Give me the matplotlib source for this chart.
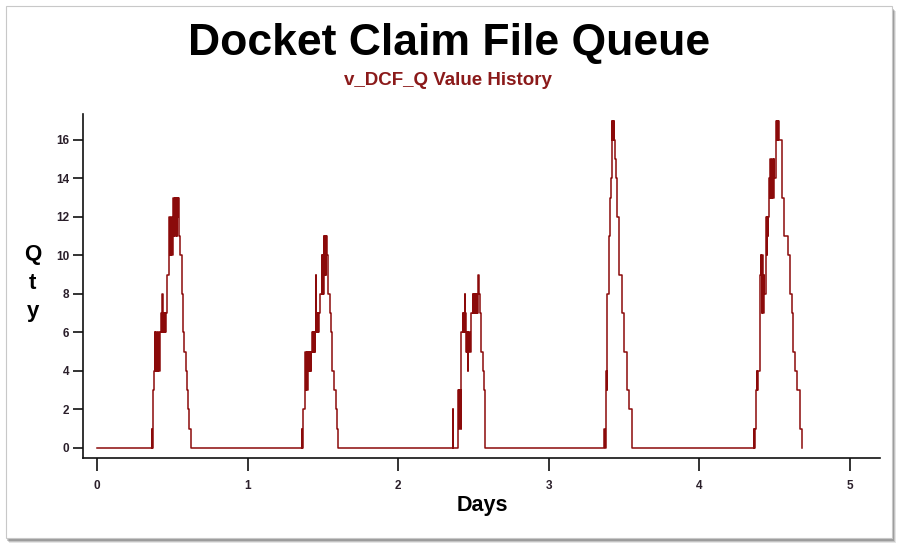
import numpy as np
import matplotlib
matplotlib.use("Agg")
import matplotlib.pyplot as plt
from matplotlib.patches import Rectangle

plt.rcParams['font.family'] = ['Liberation Sans', 'DejaVu Sans']

# queue length history, (day, qty) steps for each daily burst
start = [(0.0, 0)]
burst1 = [(0.363, 1), (0.366, 0), (0.372, 3), (0.379, 4), (0.383, 6), (0.386, 4), (0.389, 5),
          (0.392, 4), (0.395, 6), (0.398, 4), (0.401, 5), (0.404, 4), (0.407, 6), (0.410, 5),
          (0.413, 4), (0.416, 5), (0.419, 6), (0.422, 7), (0.425, 6), (0.428, 7), (0.431, 6),
          (0.434, 8), (0.437, 7), (0.440, 6), (0.443, 7), (0.446, 6), (0.449, 7), (0.452, 6),
          (0.455, 7), (0.458, 6), (0.461, 7), (0.464, 9), (0.478, 10), (0.481, 12), (0.484, 10),
          (0.487, 11), (0.490, 10), (0.493, 12), (0.496, 11), (0.499, 10), (0.502, 11),
          (0.505, 12), (0.508, 13), (0.511, 11), (0.514, 12), (0.517, 13), (0.520, 11),
          (0.523, 13), (0.526, 12), (0.529, 11), (0.532, 13), (0.535, 12), (0.538, 13),
          (0.542, 11), (0.551, 10), (0.562, 8), (0.573, 6), (0.580, 5), (0.589, 4), (0.600, 3),
          (0.606, 2), (0.613, 1), (0.624, 0)]
burst2 = [(1.359, 1), (1.362, 0), (1.370, 2), (1.381, 3), (1.384, 5), (1.387, 3), (1.390, 4),
          (1.393, 5), (1.396, 3), (1.400, 4), (1.403, 5), (1.406, 4), (1.409, 5), (1.412, 4),
          (1.415, 5), (1.418, 4), (1.422, 5), (1.425, 6), (1.428, 5), (1.431, 6), (1.434, 5),
          (1.437, 6), (1.440, 5), (1.443, 6), (1.446, 5), (1.449, 6), (1.452, 9), (1.455, 6),
          (1.459, 7), (1.462, 6), (1.465, 7), (1.468, 6), (1.471, 7), (1.474, 6), (1.477, 7),
          (1.481, 8), (1.492, 10), (1.495, 8), (1.498, 9), (1.501, 10), (1.504, 8), (1.507, 11),
          (1.510, 9), (1.513, 10), (1.516, 11), (1.519, 9), (1.522, 11), (1.525, 10),
          (1.536, 8), (1.547, 7), (1.554, 6), (1.562, 4), (1.574, 3), (1.585, 2), (1.596, 1),
          (1.603, 0)]
burst3 = [(2.364, 2), (2.367, 0), (2.397, 1), (2.400, 3), (2.403, 1), (2.406, 3), (2.409, 2),
          (2.412, 3), (2.415, 1), (2.419, 6), (2.430, 7), (2.433, 6), (2.436, 7), (2.439, 6),
          (2.442, 8), (2.445, 7), (2.448, 6), (2.452, 5), (2.455, 6), (2.458, 5), (2.461, 6),
          (2.464, 4), (2.467, 5), (2.470, 6), (2.474, 5), (2.481, 7), (2.497, 8), (2.500, 7),
          (2.503, 8), (2.506, 7), (2.509, 8), (2.512, 7), (2.515, 8), (2.518, 7), (2.521, 8),
          (2.524, 7), (2.527, 8), (2.531, 9), (2.534, 8), (2.541, 7), (2.552, 5), (2.563, 4),
          (2.570, 3), (2.579, 0)]
burst4 = [(3.369, 1), (3.373, 0), (3.380, 3), (3.383, 4), (3.385, 3), (3.387, 4), (3.389, 8),
          (3.402, 11), (3.408, 13), (3.413, 14), (3.420, 17), (3.423, 16), (3.426, 17),
          (3.429, 16), (3.432, 17), (3.435, 16), (3.440, 15), (3.446, 14), (3.455, 12),
          (3.466, 9), (3.484, 7), (3.500, 5), (3.517, 3), (3.535, 2), (3.550, 0)]
burst5 = [(4.363, 1), (4.365, 0), (4.367, 1), (4.378, 3), (4.382, 4), (4.384, 3), (4.387, 4),
          (4.400, 5), (4.406, 9), (4.410, 10), (4.413, 9), (4.416, 7), (4.419, 10), (4.422, 9),
          (4.425, 7), (4.428, 9), (4.431, 8), (4.444, 12), (4.447, 10), (4.450, 12), (4.453, 11),
          (4.456, 12), (4.466, 14), (4.469, 13), (4.472, 15), (4.475, 13), (4.478, 14),
          (4.481, 13), (4.484, 15), (4.487, 14), (4.490, 13), (4.493, 15), (4.496, 14),
          (4.511, 17), (4.514, 16), (4.517, 17), (4.520, 16), (4.523, 17), (4.526, 16),
          (4.546, 13), (4.564, 11), (4.590, 10), (4.602, 8), (4.613, 7), (4.624, 5),
          (4.635, 4), (4.650, 3), (4.668, 1), (4.679, 0)]

x_ticks = [0, 1, 2, 3, 4, 5]
y_ticks = [0, 2, 4, 6, 8, 10, 12, 14, 16]

history = start + burst1 + burst2 + burst3 + burst4 + burst5
days = np.array([p[0] for p in history])
qty = np.array([p[1] for p in history])

fig = plt.figure(figsize=(9.09, 5.54), dpi=100)
fig.patch.set_facecolor('white')

# panel with a soft shadow
for i, a in enumerate([0.10, 0.14, 0.20]):
    off = (3 - i) / 909
    fig.patches.append(Rectangle((6 / 909 + off, 14 / 554 - off * 1.6), 887 / 909, 532 / 554,
                                 transform=fig.transFigure, facecolor='black', alpha=a,
                                 edgecolor='none', zorder=0))
fig.patches.append(Rectangle((6 / 909, 16 / 554), 886 / 909, 532 / 554,
                             transform=fig.transFigure, facecolor='white',
                             edgecolor='#c8c8c8', lw=0.8, zorder=1))

ax = fig.add_axes([83 / 909, 96 / 554, 797 / 909, 344 / 554])
ax.set_zorder(5)
ax.set_facecolor('none')
ax.plot(days, qty, drawstyle='steps-post', color='#8b0a0a', lw=1.1)

ax.set_xlim(-0.093, 5.2)
ax.set_ylim(-0.52, 17.35)
ax.set_xticks(x_ticks)
ax.set_yticks(y_ticks)

for s in ['top', 'right']:
    ax.spines[s].set_visible(False)
for s in ['left', 'bottom']:
    ax.spines[s].set_linewidth(1.2)
    ax.spines[s].set_color('#111111')

ax.tick_params(axis='x', length=9, width=1.2, pad=7, color='#111111',
               labelsize=8.5, labelcolor='#2a1f2a')
ax.tick_params(axis='y', length=7, width=1.2, pad=3, color='#111111',
               labelsize=8.5, labelcolor='#2a1f2a')
for lab in ax.get_xticklabels() + ax.get_yticklabels():
    lab.set_fontweight('bold')

fig.text(0.494, 0.921, 'Docket Claim File Queue', ha='center', va='center',
         fontsize=32, fontweight='bold', color='black', zorder=6)
fig.text(0.493, 0.854, 'v_DCF_Q Value History', ha='center', va='center',
         fontsize=13.5, fontweight='bold', color='#8b1a1a', zorder=6)
fig.text(0.036, 0.489, 'Q\nt\ny', ha='center', va='center', fontsize=16,
         fontweight='bold', linespacing=1.45, zorder=6)
fig.text(0.531, 0.088, 'Days', ha='center', va='center', fontsize=15.5,
         fontweight='bold', zorder=6)

fig.savefig('out.png', dpi=100)
